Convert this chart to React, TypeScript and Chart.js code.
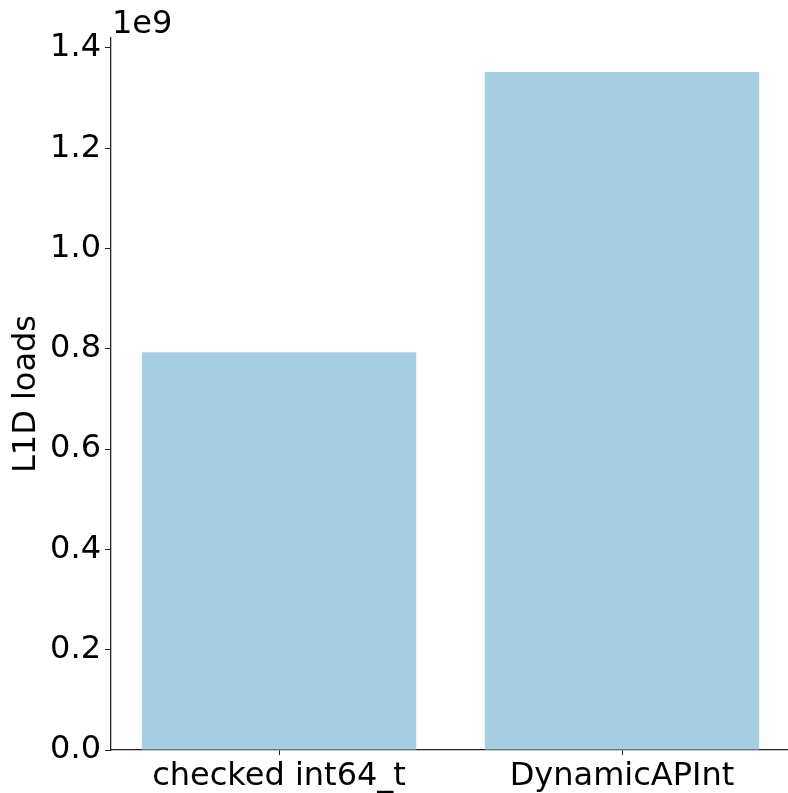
import React, { useEffect, useRef } from "react";
import { Chart, registerables } from "chart.js";

Chart.register(...registerables);

const categories = ["checked int64_t", "DynamicAPInt"];
const l1dLoads = [0.7932e9, 1.3522e9];
const yTicks = [0, 0.2e9, 0.4e9, 0.6e9, 0.8e9, 1.0e9, 1.2e9, 1.4e9];
const yTitle = "L1D loads";
const offsetText = "1e9";

const FONT = "'DejaVu Sans', sans-serif";
const FS = 32;

export default function App() {
  const ref = useRef<HTMLCanvasElement | null>(null);
  useEffect(() => {
    if (!ref.current) return;
    const offsetPlugin = {
      id: "offsetText",
      afterDraw(chart: any) {
        const ctx = chart.ctx;
        const area = chart.chartArea;
        ctx.save();
        ctx.font = `${FS}px ${FONT}`;
        ctx.fillStyle = "#000";
        ctx.textAlign = "left";
        ctx.textBaseline = "alphabetic";
        ctx.fillText(offsetText, area.left + 1, area.top - 5);
        ctx.restore();
      },
    };
    const chart = new Chart(ref.current, {
      type: "bar",
      data: {
        datasets: [
          {
            data: categories.map((c, i) => ({ x: i, y: l1dLoads[i] })),
            backgroundColor: "#a6cee3",
            borderWidth: 0,
            barPercentage: 0.8,
            categoryPercentage: 1,
          },
        ],
      },
      options: {
        animation: false,
        responsive: false,
        maintainAspectRatio: false,
        layout: { padding: { top: 38, right: 0, bottom: 0, left: 0 } },
        plugins: { legend: { display: false }, tooltip: { enabled: false } },
        scales: {
          x: {
            type: "linear",
            offset: false,
            min: -0.49,
            max: 1.484,
            afterFit: (s: any) => {
              s.height = 43;
            },
            afterBuildTicks: (s: any) => {
              s.ticks = categories.map((_, i) => ({ value: i }));
            },
            ticks: {
              callback: (v: any) => categories[Math.round(Number(v))] ?? "",
              font: { family: FONT, size: FS },
              color: "#000",
              padding: 2,
              maxRotation: 0,
              autoSkip: false,
            },
            grid: {
              offset: false,
              drawOnChartArea: false,
              drawTicks: true,
              tickLength: 5,
              color: "#222",
            },
            border: { display: true, color: "#222", width: 1.3 },
          },
          y: {
            min: 0,
            max: 1.3522e9 * 1.05,
            afterFit: (s: any) => {
              s.width = 111;
            },
            afterBuildTicks: (s: any) => {
              s.ticks = yTicks.map((v) => ({ value: v }));
            },
            ticks: {
              callback: (v: any) => (Number(v) / 1e9).toFixed(1),
              font: { family: FONT, size: FS },
              color: "#000",
              padding: 4,
            },
            grid: {
              drawOnChartArea: false,
              drawTicks: true,
              tickLength: 6,
              color: "#222",
            },
            border: { display: true, color: "#222", width: 1.3 },
            title: {
              display: true,
              text: yTitle,
              font: { family: FONT, size: FS },
              color: "#000",
              padding: { top: 7, bottom: 0 },
            },
          },
        },
      },
      plugins: [offsetPlugin],
    });
    return () => chart.destroy();
  }, []);
  return (
    <div style={{ position: "fixed", left: 0, top: 0, width: 788, height: 793, background: "#fff" }}>
      <canvas ref={ref} width={788} height={793} style={{ width: 788, height: 793, display: "block" }} />
    </div>
  );
}
